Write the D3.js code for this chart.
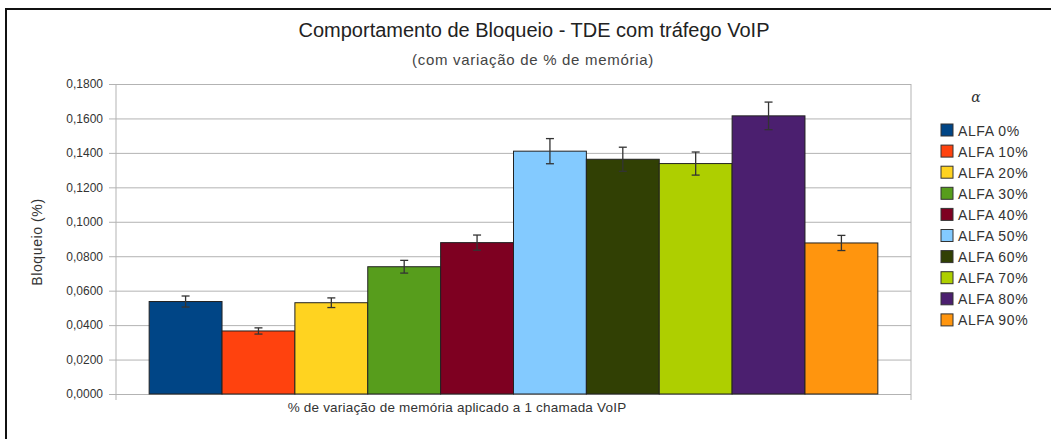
<!DOCTYPE html>
<html>
<head>
<meta charset="utf-8">
<script src="https://cdn.jsdelivr.net/npm/d3@7"></script>
<style>
  body { margin: 0; background: #fff; }
  text { font-family: "Liberation Sans", Arial, sans-serif; fill: #333; }
</style>
</head>
<body>
<svg id="chart" width="1051" height="439"></svg>
<script>
// data
const series = ['ALFA 0%', 'ALFA 10%', 'ALFA 20%', 'ALFA 30%', 'ALFA 40%',
  'ALFA 50%', 'ALFA 60%', 'ALFA 70%', 'ALFA 80%', 'ALFA 90%'];
const values = [0.0537, 0.0366, 0.0530, 0.0739, 0.0879, 0.1410, 0.1363, 0.1338, 0.1615, 0.0877];
const errors = [0.0032, 0.0018, 0.0028, 0.0037, 0.0044, 0.0073, 0.0070, 0.0067, 0.0080, 0.0044];
const colors = ['#004586', '#ff420e', '#ffd320', '#579d1c', '#7e0021',
  '#83caff', '#314004', '#aecf00', '#4b1f6f', '#ff950e'];
const yTicks = [0, 0.02, 0.04, 0.06, 0.08, 0.10, 0.12, 0.14, 0.16, 0.18];
const category = ['% de variação de memória aplicado a 1 chamada VoIP'];

const margin = { left: 116, top: 84, right: 140, bottom: 45 };
const width = 1051 - margin.left - margin.right;
const height = 439 - margin.top - margin.bottom;

const svg = d3.select('#chart');

// outer frame
svg.append('rect')
  .attr('x', 6).attr('y', 9)
  .attr('width', 1060).attr('height', 450)
  .attr('fill', 'none')
  .attr('stroke', '#111')
  .attr('stroke-width', 2);

svg.append('text')
  .attr('x', 534).attr('y', 37)
  .attr('text-anchor', 'middle')
  .style('font-size', '20px')
  .style('fill', '#222')
  .text('Comportamento de Bloqueio - TDE com tráfego VoIP');

svg.append('text')
  .attr('x', 533).attr('y', 65)
  .attr('text-anchor', 'middle')
  .style('font-size', '15px')
  .style('letter-spacing', '0.7px')
  .style('fill', '#444')
  .text('(com variação de % de memória)');

const g = svg.append('g')
  .attr('transform', 'translate(' + margin.left + ',' + margin.top + ')');

const xScale = d3.scaleBand().domain(category).range([0, width]).paddingOuter(0.0455);
const xInner = d3.scaleBand().domain(series).range([0, xScale.bandwidth()]).padding(0);
const yScale = d3.scaleLinear().domain([0, 0.18]).range([height, 0]);

// grid
g.append('g')
  .attr('class', 'grid')
  .call(d3.axisLeft(yScale).tickValues(yTicks).tickSize(-width).tickFormat(''))
  .call(s => s.select('.domain').remove())
  .call(s => s.selectAll('line').attr('stroke', '#b3b3b3'));

// right border
g.append('line')
  .attr('x1', width).attr('x2', width)
  .attr('y1', 0).attr('y2', height + 6)
  .attr('stroke', '#b3b3b3');

// y axis
const fmt = d => d.toFixed(4).replace('.', ',');
g.append('g')
  .call(d3.axisLeft(yScale).tickValues(yTicks).tickSize(7).tickPadding(6).tickFormat(fmt))
  .call(s => s.select('.domain').attr('stroke', '#b3b3b3').attr('d', 'M0,0V' + (height + 6)))
  .call(s => s.selectAll('line').attr('stroke', '#b3b3b3'))
  .call(s => s.selectAll('text').style('font-size', '12px').style('fill', '#333')
    .style('font-family', '"Liberation Sans", Arial, sans-serif'));

// bars
const x0 = xScale(category[0]);
g.append('g')
  .selectAll('rect')
  .data(values)
  .join('rect')
  .attr('x', (d, i) => x0 + xInner(series[i]))
  .attr('y', d => yScale(d))
  .attr('width', xInner.bandwidth())
  .attr('height', d => height - yScale(d))
  .attr('fill', (d, i) => colors[i])
  .attr('stroke', '#222')
  .attr('stroke-width', 1);

// error bars
const eb = g.append('g').attr('stroke', '#333').attr('stroke-width', 1.3);
values.forEach((v, i) => {
  const cx = x0 + xInner(series[i]) + xInner.bandwidth() / 2;
  const top = yScale(v + errors[i]);
  const bot = yScale(v - errors[i]);
  eb.append('line').attr('x1', cx).attr('x2', cx).attr('y1', top).attr('y2', bot);
  eb.append('line').attr('x1', cx - 4).attr('x2', cx + 4).attr('y1', top).attr('y2', top);
  eb.append('line').attr('x1', cx - 4).attr('x2', cx + 4).attr('y1', bot).attr('y2', bot);
});

// axis labels
svg.append('text')
  .attr('x', 457).attr('y', 412)
  .attr('text-anchor', 'middle')
  .style('font-size', '13.5px')
  .style('letter-spacing', '0.2px')
  .text(category[0]);

svg.append('text')
  .attr('transform', 'translate(42, 242) rotate(-90)')
  .attr('text-anchor', 'middle')
  .style('font-size', '14px')
  .style('letter-spacing', '0.6px')
  .text('Bloqueio (%)');

// legend
const legend = svg.append('g').attr('transform', 'translate(941, 0)');
legend.append('text')
  .attr('x', 35).attr('y', 102)
  .attr('text-anchor', 'middle')
  .style('font-family', '"DejaVu Serif", serif')
  .style('font-style', 'italic')
  .style('font-size', '14px')
  .text('α');

series.forEach((s, i) => {
  const y = 130 + i * 21.1;
  legend.append('rect')
    .attr('x', 0).attr('y', y - 6)
    .attr('width', 12).attr('height', 12)
    .attr('fill', colors[i])
    .attr('stroke', '#333');
  legend.append('text')
    .attr('x', 17).attr('y', y + 5.5)
    .style('font-size', '14px')
    .style('letter-spacing', '0.6px')
    .text(s);
});
</script>
</body>
</html>
